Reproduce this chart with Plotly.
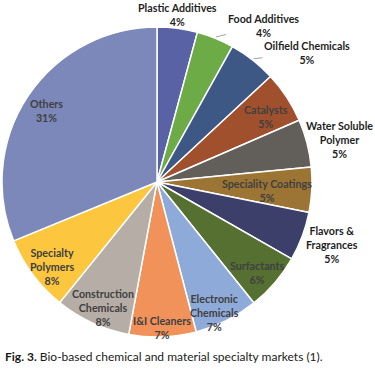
import math
import plotly.graph_objects as go

categories = ["Plastic Additives", "Food Additives", "Oilfield Chemicals", "Catalysts",
              "Water Soluble Polymer", "Speciality Coatings", "Flavors & Fragrances",
              "Surfactants", "Electronic Chemicals", "I&I Cleaners",
              "Construction Chemicals", "Specialty Polymers", "Others"]
display_labels = ["Plastic Additives", "Food Additives", "Oilfield Chemicals", "Catalysts",
                  "Water Soluble<br>Polymer", "Speciality Coatings", "Flavors &<br>Fragrances",
                  "Surfactants", "Electronic<br>Chemicals", "I&I Cleaners",
                  "Construction<br>Chemicals", "Specialty<br>Polymers", "Others"]
values = [4.2, 3.9, 5.0, 5.4, 5.0, 4.7, 5.1, 6.0, 6.7, 7.0, 7.9, 8.0, 31.25]
colors = ["#5a62a6", "#6cab46", "#3e5886", "#a0502c", "#625e5a", "#9c7534", "#3c3f6a",
          "#557030", "#8eaad8", "#f0925a", "#b6ada7", "#fcc63f", "#7b88b9"]
outside = [True, True, True, False, True, False, True, False, False, False, False, False, False]
# label placement: radial fraction of radius, angular tweak (deg), leader line
label_r = [1.09, 1.22, 1.28, 0.82, 1.21, 0.71, 1.20, 0.87, 0.92, 0.94, 0.88, 0.87, 0.85]
label_dt = [-0.5, 12, 11, 2, 1.5, 1.5, -1, 1.5, 3, 0, -1.5, -2, -1]
leader = [False, True, True, False, False, False, False, False, False, False, False, False, False]

W, H = 375, 370
CX, CY, R = 157, 182, 155  # pie centre/radius in pixels

fig = go.Figure(go.Pie(
    labels=categories,
    values=values,
    textinfo="none",
    sort=False,
    direction="clockwise",
    rotation=0,
    marker=dict(colors=colors, line=dict(color="white", width=1.5)),
    domain=dict(x=[(CX - R) / W, (CX + R) / W], y=[(H - CY - R) / H, (H - CY + R) / H]),
    showlegend=False,
    hoverinfo="label+percent",
))

total = sum(values)
cum = 0.0
for i, v in enumerate(values):
    mid = (cum + v / 2) / total * 360.0
    cum += v
    pct = round(v / total * 100)
    txt = f"{display_labels[i]}<br>{pct}%"
    th = math.radians(mid + label_dt[i])
    px = CX + label_r[i] * R * math.sin(th)
    py = CY - label_r[i] * R * math.cos(th)
    color = "#1f1f1f" if outside[i] else "#404040"
    font = dict(family="Lato", size=10.7, color=color, weight="bold")
    if leader[i]:
        tm = math.radians(mid)
        tx = CX + 1.01 * R * math.sin(tm)
        ty = CY - 1.01 * R * math.cos(tm)
        fig.add_annotation(
            x=tx / W, y=(H - ty) / H, xref="paper", yref="paper",
            ax=px - tx, ay=py - ty, axref="pixel", ayref="pixel",
            text=txt, showarrow=True, arrowhead=0, arrowwidth=0.8,
            arrowcolor="#8c8c8c", standoff=0, font=font,
        )
    else:
        fig.add_annotation(
            x=px / W, y=(H - py) / H, xref="paper", yref="paper",
            text=txt, showarrow=False, xanchor="center", yanchor="middle",
            font=font,
        )

fig.add_annotation(
    text="<b>Fig. 3.</b> Bio-based chemical and material specialty markets (1).",
    x=3 / W, y=(H - 356) / H, xref="paper", yref="paper",
    xanchor="left", yanchor="middle", showarrow=False,
    font=dict(family="Lato", size=12, color="#1a1a1a"),
)

fig.update_layout(
    width=W, height=H,
    margin=dict(l=0, r=0, t=0, b=0),
    paper_bgcolor="white",
    plot_bgcolor="white",
)

fig.write_html("out.html", config={"displayModeBar": False},
               post_script="document.body.style.margin='0';")
